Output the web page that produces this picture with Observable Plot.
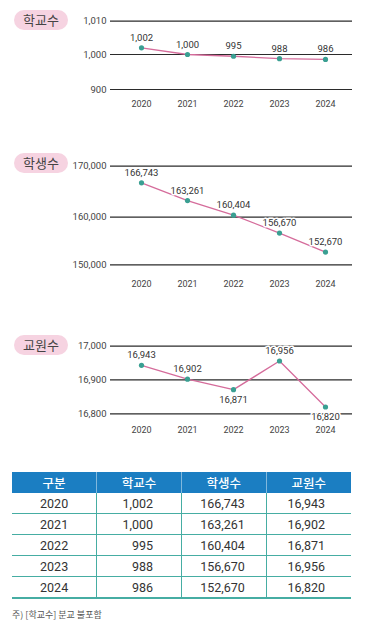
<!DOCTYPE html>
<html>
<head>
<meta charset="utf-8">
<script src="https://cdn.jsdelivr.net/npm/d3@7"></script>
<script src="https://cdn.jsdelivr.net/npm/@observablehq/plot@0.6"></script>
<style>
  html, body { margin: 0; padding: 0; background: #fff; }
  body { font-family: Roboto, "Noto Sans CJK KR", sans-serif; color: #333; }
  #wrap { position: relative; width: 366px; height: 627px; overflow: hidden; }
  .chart { position: absolute; left: 0; }
  .pill { position: absolute; left: 14px; width: 54px; height: 20px; border-radius: 10px;
          background: #f6d3e1; color: #444; font-family: "Noto Sans CJK KR", sans-serif;
          font-size: 13px; line-height: 20px; text-align: center; }
  table { position: absolute; left: 12px; top: 472px; width: 339px; border-collapse: collapse;
          font-family: Roboto, "Noto Sans CJK KR", sans-serif; font-size: 12.5px; color: #333; table-layout: fixed; }
  th { background: #1b7ec2; color: #fff; font-weight: 500; font-family: "Noto Sans CJK KR", sans-serif;
       font-size: 12.5px; height: 21px; padding: 0; text-align: center; border-left: 1px solid rgba(255,255,255,0.45); }
  th:first-child { border-left: none; }
  td { height: 20px; padding: 0; border-bottom: 1.5px solid #46ada3; border-left: 1px solid #46ada3; }
  td:first-child { border-left: none; text-align: center; }
  tr:last-child td { border-bottom: 2px solid #46ada3; }
  td.c1 { text-align: right; padding-right: 28px; }
  td.c2 { text-align: right; padding-right: 21px; }
  td.c3 { text-align: right; padding-right: 26px; }
  .note { position: absolute; left: 12px; top: 608px; font-family: "Noto Sans CJK KR", sans-serif;
          font-size: 9px; color: #555; }
</style>
</head>
<body>
<div id="wrap"></div>
<script>
// ---- data ----
const years = [2020, 2021, 2022, 2023, 2024];
const schools = [1002, 1000, 995, 988, 986];
const students = [166743, 163261, 160404, 156670, 152670];
const teachers = [16943, 16902, 16871, 16956, 16820];
const schoolTicks = [900, 1000, 1010];
const studentTicks = [150000, 160000, 170000];
const teacherTicks = [16800, 16900, 17000];
const seriesNames = ["학교수", "학생수", "교원수"];
const tableHeader = ["구분", "학교수", "학생수", "교원수"];
const footnote = "주) [학교수] 분교 불포함";

const fmt = d3.format(",");
const wrap = document.getElementById("wrap");

// The reference axes space their gridlines evenly (a broken axis), so the y scale
// first maps values piecewise onto gridline steps, then linearly onto pixels.
function makeChart({name, values, ticks, top, height, gridY, yearY, pillTop, below = []}) {
  const data = years.map((y, i) => ({year: y, v: values[i]}));
  const steps = d3.scaleLinear().domain(ticks).range(gridY);
  const labelOpts = {
    x: "year", y: "v", text: d => fmt(d.v), fontSize: 9.5, fill: "#333",
    stroke: "white", strokeWidth: 3, paintOrder: "stroke"
  };
  const plot = Plot.plot({
    width: 366,
    height,
    marginLeft: 110,
    marginRight: 14,
    marginTop: 0,
    marginBottom: 0,
    x: {type: "point", domain: years, range: [140, 325], padding: 0, axis: null},
    y: {type: "linear", transform: steps, domain: [0, height], range: [0, height], axis: null},
    style: {fontFamily: "Roboto, 'Noto Sans CJK KR', sans-serif", color: "#333", background: "transparent", overflow: "visible"},
    marks: [
      Plot.ruleY(ticks, {stroke: "#2b2b2b", strokeWidth: 1.2}),
      Plot.text(ticks, {y: d => d, text: d => fmt(d), frameAnchor: "left", dx: -4, textAnchor: "end", fontSize: 9.5, fill: "#444"}),
      Plot.text(years, {x: d => d, text: d => String(d), frameAnchor: "top", dy: yearY, fontSize: 9, fill: "#444"}),
      Plot.line(data, {x: "year", y: "v", stroke: "#d56c9b", strokeWidth: 1.3}),
      Plot.dot(data, {x: "year", y: "v", r: 2.6, fill: "#3a9f92", stroke: "none"}),
      Plot.text(data.filter(d => !below.includes(d.year)), {...labelOpts, dy: -10}),
      Plot.text(data.filter(d => below.includes(d.year)), {...labelOpts, dy: 10})
    ]
  });
  plot.classList.add("chart");
  plot.style.top = top + "px";
  wrap.appendChild(plot);
  const pill = document.createElement("div");
  pill.className = "pill";
  pill.style.top = pillTop + "px";
  pill.textContent = name;
  wrap.appendChild(pill);
}

makeChart({name: seriesNames[0], values: schools, ticks: schoolTicks, top: 0, height: 110,
           gridY: [89, 54, 20.7], yearY: 100, pillTop: 10});
makeChart({name: seriesNames[1], values: students, ticks: studentTicks, top: 140, height: 150,
           gridY: [124.3, 76.7, 25.7], yearY: 140, pillTop: 153});
makeChart({name: seriesNames[2], values: teachers, ticks: teacherTicks, top: 320, height: 120,
           gridY: [93.3, 59.3, 25.7], yearY: 106, pillTop: 335, below: [2022, 2024]});

// ---- table ----
const table = document.createElement("table");
const thead = document.createElement("tr");
tableHeader.forEach(h => { const th = document.createElement("th"); th.textContent = h; thead.appendChild(th); });
table.appendChild(thead);
years.forEach((y, i) => {
  const tr = document.createElement("tr");
  [String(y), fmt(schools[i]), fmt(students[i]), fmt(teachers[i])].forEach((t, j) => {
    const td = document.createElement("td");
    if (j > 0) td.className = "c" + j;
    td.textContent = t;
    tr.appendChild(td);
  });
  table.appendChild(tr);
});
wrap.appendChild(table);

const note = document.createElement("div");
note.className = "note";
note.textContent = footnote;
wrap.appendChild(note);
</script>
</body>
</html>
